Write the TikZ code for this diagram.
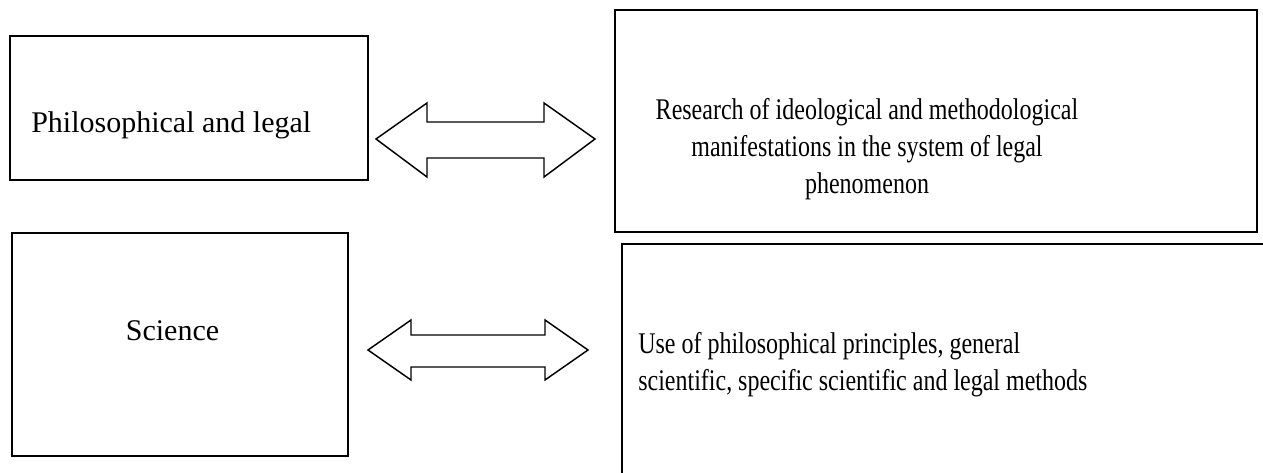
\documentclass[tikz,border=0pt]{standalone}
\usepackage{fontspec}
\setmainfont{Liberation Serif}
\newfontfamily\condfont[FakeStretch=0.8]{Liberation Serif}
\usetikzlibrary{fit}
\begin{document}
\begin{tikzpicture}[x=0.75pt,y=-0.75pt,
  box/.style={draw,line width=1.3pt,inner sep=0pt},
  dblarrow/.style={draw,line width=1.1pt,line join=miter},
  txt/.style={inner sep=0pt,font=\fontsize{22.5}{27.75}\selectfont},
  ctxt/.style={inner sep=0pt,font=\condfont\fontsize{22.5}{27.75}\selectfont}]
\useasboundingbox (0,0) rectangle (1263,473);
% boxes
\node[box,fit={(10,36)(368,180)}] (b1) {};
\node[box,fit={(615,10)(1257,232)}] (b2) {};
\node[box,fit={(12,233)(348,456)}] (b3) {};
\begin{scope}
  \clip (0,0) rectangle (1263,473);
  \node[box,fit={(622,244)(1280,490)}] (b4) {};
\end{scope}
% texts
\node[txt,anchor=base west] (t1) at (31,133) {Philosophical and legal};
\node[txt,anchor=base] (t3) at (172.5,341) {Science};
\node[ctxt,align=center,anchor=center] (t2) at (867,149) {Research of ideological and methodological\\manifestations in the system of legal\\phenomenon};
\node[ctxt,align=left,anchor=west] (t4) at (638,364.5) {Use of philosophical principles, general\\scientific, specific scientific and legal methods};
% double arrows
\draw[dblarrow] (376,139) coordinate (a1l) -- (427,103) -- (427,122) -- (544,122) -- (544,103)
  -- (595,139) coordinate (a1r) -- (544,177) -- (544,158) -- (427,158) -- (427,177) -- cycle;
\draw[dblarrow] (368,350) coordinate (a2l) -- (411,320) -- (411,335) -- (545,335) -- (545,320)
  -- (588,350) coordinate (a2r) -- (545,380) -- (545,367) -- (411,367) -- (411,380) -- cycle;
\end{tikzpicture}
\end{document}
